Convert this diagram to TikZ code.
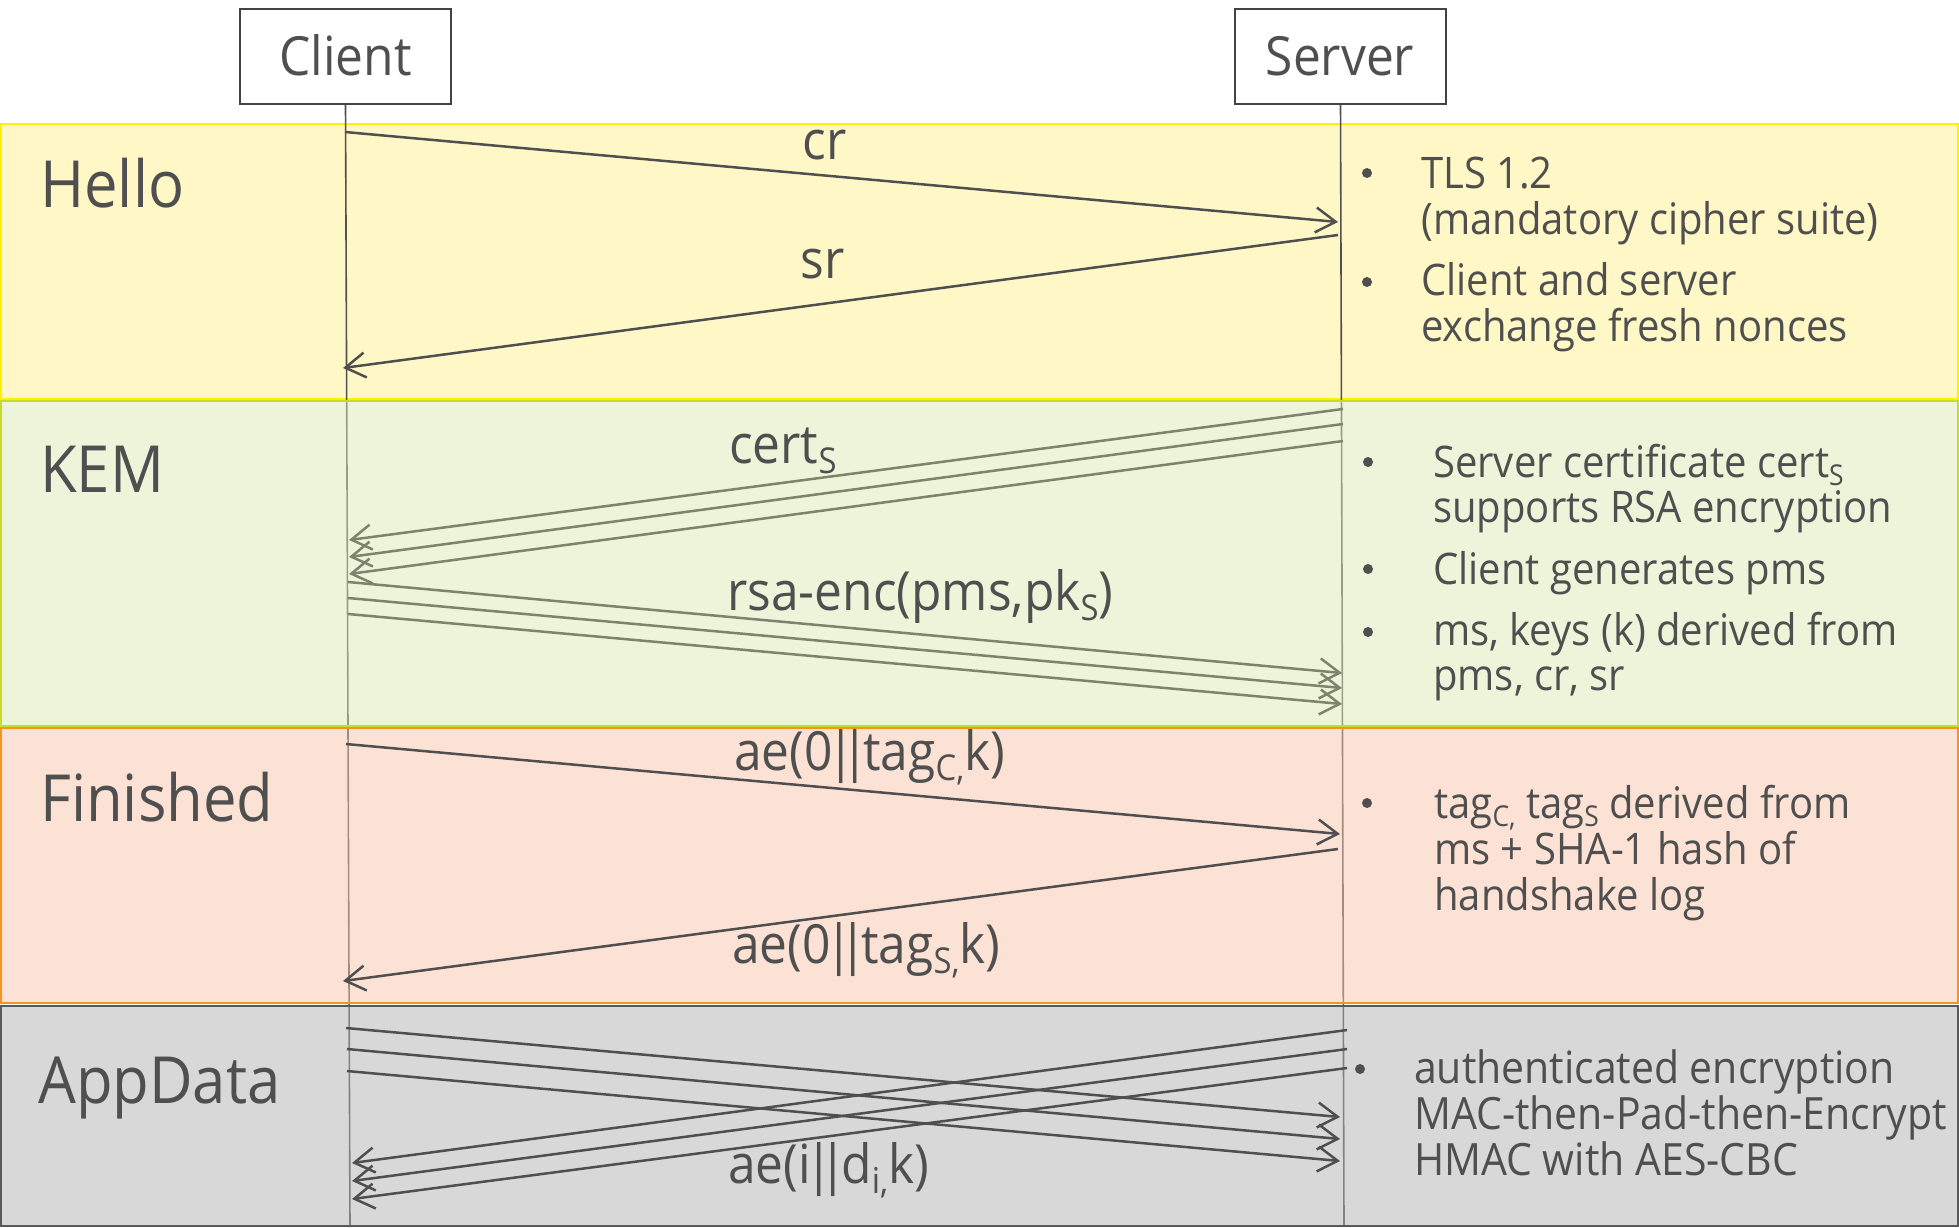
\documentclass[tikz,border=0pt]{standalone}
\usepackage{fontspec}
\usepackage{graphicx}
\setmainfont{Open Sans}[FakeStretch=0.92]
\usetikzlibrary{arrows.meta}

\definecolor{ink}{HTML}{4F4F4F}
\definecolor{kemline}{HTML}{7D846C}
\definecolor{lifegray}{HTML}{505050}
\definecolor{hellofill}{HTML}{FFF8C6}
\definecolor{helloedge}{HTML}{FFF000}
\definecolor{kemfill}{HTML}{DFEBB7}
\definecolor{kemedge}{HTML}{C5DC2A}
\definecolor{finfill}{HTML}{FBC7AD}
\definecolor{finedge}{HTML}{F8931F}
\definecolor{appfill}{HTML}{B3B3B3}
\definecolor{appedge}{HTML}{595959}

% subscript as set in the slide text
\newcommand\lsub[1]{\smash{\raisebox{-0.2em}{\scalebox{0.66}{#1}}}}
% tight double bar (concatenation)
\newcommand\dbar{\kern-0.1em|\kern-0.25em|\kern-0.1em}

\tikzset{
  party/.style={draw=ink!85!black, line width=2pt, fill=white,
    minimum width=211pt, minimum height=95pt, inner sep=0pt,
    text height=38pt, text depth=0pt, text=ink,
    font=\fontsize{54}{60}\selectfont},
  lifeline/.style={draw=lifegray, line width=1.6pt},
  msg/.style={draw=ink, line width=2.5pt,
    -{Straight Barb[length=20pt,width=25pt,line width=2.5pt]}},
  kemmsg/.style={msg, draw=kemline},
  title/.style={anchor=base west, inner sep=0pt, text=ink,
    font=\fontsize{65}{70}\selectfont},
  lbl/.style={anchor=base west, inner sep=0pt, text=ink,
    font=\fontsize{54}{60}\selectfont},
  note/.style={anchor=base west, inner sep=0pt, text=ink,
    font=\fontsize{43.5}{46}\selectfont},
  dot/.style={circle, fill=ink, inner sep=0pt, minimum size=10pt},
}

\begin{document}
\begin{tikzpicture}[x=1pt, y=-1pt]
\useasboundingbox[fill=white] (0,0) rectangle (1959,1227);

% Hello band (opaque, lifelines run over it)
\draw[fill=hellofill, draw=helloedge, line width=2pt] (1,124) rectangle (1958,399);

% lifelines
\coordinate (cTop) at (345.5,104);
\coordinate (cBot) at (350,1227);
\coordinate (sTop) at (1340.5,104);
\coordinate (sBot) at (1344,1227);
\draw[lifeline] (cTop) -- (cBot);
\draw[lifeline] (sTop) -- (sBot);

% remaining phase bands, translucent over the lifelines
\draw[fill=kemfill, fill opacity=0.5, draw=kemedge, line width=2pt] (1,401) rectangle (1958,726);
\draw[fill=finfill, fill opacity=0.5, draw=finedge, line width=2pt] (1,728) rectangle (1958,1003);
\draw[fill=appfill, fill opacity=0.5, draw=appedge, line width=2pt] (1,1006) rectangle (1958,1226);

% parties
\node[party] (client) at (345.5,56.5) {Client};
\node[party] (server) at (1340,56.5) {Server};

% phase titles
\node[title] (tHello) at (40,207) {Hello};
\node[title] (tKem) at (40,492) {KEM};
\node[title] (tFin) at (40,821) {Finished};
\node[title] (tApp) at (38,1103) {AppData};

% ---- Hello messages
\coordinate (crA) at (345,132);  \coordinate (crB) at (1338,222);
\coordinate (srA) at (1338,235); \coordinate (srB) at (343,368);
\draw[msg] (crA) -- (crB);
\draw[msg] (srA) -- (srB);
\node[lbl, anchor=base] (lcr) at (824.5,159) {cr};
\node[lbl, anchor=base] (lsr) at (822.5,278) {sr};

% ---- KEM messages
\coordinate (ceA1) at (1343,409); \coordinate (ceB1) at (349,540);
\coordinate (ceA2) at (1343,424); \coordinate (ceB2) at (349,557);
\coordinate (ceA3) at (1343,441); \coordinate (ceB3) at (349,574);
\draw[kemmsg] (ceA1) -- (ceB1);
\draw[kemmsg] (ceA2) -- (ceB2);
\draw[kemmsg] (ceA3) -- (ceB3);
\coordinate (rsA1) at (348,582); \coordinate (rsB1) at (1342,673);
\coordinate (rsA2) at (348,598); \coordinate (rsB2) at (1342,688);
\coordinate (rsA3) at (348,614); \coordinate (rsB3) at (1342,704);
\draw[kemmsg] (rsA1) -- (rsB1);
\draw[kemmsg] (rsA2) -- (rsB2);
\draw[kemmsg] (rsA3) -- (rsB3);
\node[lbl] (lcert) at (729,463) {cert\lsub{S}};
\node[lbl] (lrsa) at (727,610) {rsa-enc(pms,pk\lsub{S})};

% ---- Finished messages
\coordinate (fcA) at (346,744);  \coordinate (fcB) at (1340,834);
\coordinate (fsA) at (1338,849); \coordinate (fsB) at (343,981);
\draw[msg] (fcA) -- (fcB);
\draw[msg] (fsA) -- (fsB);
\node[lbl] (lfc) at (734,770) {ae(0\dbar tag\lsub{C,}k)};
\node[lbl] (lfs) at (732,963) {ae(0\dbar tag\lsub{S,}k)};

% ---- AppData messages
\coordinate (acA1) at (346,1028); \coordinate (acB1) at (1340,1117);
\coordinate (acA2) at (347,1049); \coordinate (acB2) at (1340,1139);
\coordinate (acA3) at (347,1071); \coordinate (acB3) at (1340,1161);
\draw[msg] (acA1) -- (acB1);
\draw[msg] (acA2) -- (acB2);
\draw[msg] (acA3) -- (acB3);
\coordinate (asA1) at (1347,1030); \coordinate (asB1) at (352,1163);
\coordinate (asA2) at (1347,1049); \coordinate (asB2) at (352,1181);
\coordinate (asA3) at (1347,1068); \coordinate (asB3) at (352,1199);
\draw[msg] (asA1) -- (asB1);
\draw[msg] (asA2) -- (asB2);
\draw[msg] (asA3) -- (asB3);
\node[lbl] (lapp) at (728,1183) {ae(i\dbar d\lsub{i,}k)};

% ---- notes: Hello
\node[dot] (hb1) at (1367,173) {};
\node[note] (h1) at (1421,188) {TLS 1.2};
\node[note] (h2) at (1421,234) {(mandatory cipher suite)};
\node[dot] (hb2) at (1367,282) {};
\node[note] (h3) at (1421,295) {Client and server};
\node[note] (h4) at (1421,341) {exchange fresh nonces};

% ---- notes: KEM
\node[dot] (kb1) at (1368,462) {};
\node[note] (k1) at (1433,477) {Server certificate cert\lsub{S}};
\node[note] (k2) at (1433,522) {supports RSA encryption};
\node[dot] (kb2) at (1368,569) {};
\node[note] (k3) at (1433,584) {Client generates pms};
\node[dot] (kb3) at (1368,632) {};
\node[note] (k4) at (1433,645) {ms, keys (k) derived from};
\node[note] (k5) at (1433,690) {pms, cr, sr};

% ---- notes: Finished
\node[dot] (fb1) at (1367,803) {};
\node[note] (f1) at (1434,818) {tag\lsub{C,} tag\lsub{S} derived from};
\node[note] (f2) at (1434,864) {ms + SHA-1 hash of};
\node[note] (f3) at (1434,910) {handshake log};

% ---- notes: AppData
\node[dot] (ab1) at (1360,1069) {};
\node[note, font=\fontsize{44.5}{46}\selectfont] (a1) at (1414,1083) {authenticated encryption};
\node[note, font=\fontsize{44.5}{46}\selectfont] (a2) at (1414,1129) {MAC-then-Pad-then-Encrypt};
\node[note, font=\fontsize{44.5}{46}\selectfont] (a3) at (1414,1175) {HMAC with AES-CBC};
\end{tikzpicture}
\end{document}
